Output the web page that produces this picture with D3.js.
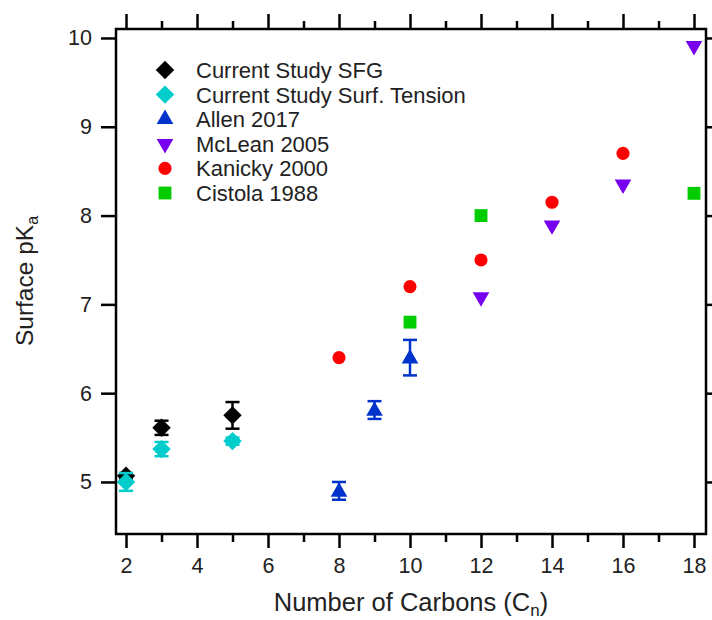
<!doctype html>
<html>
<head>
<meta charset="utf-8">
<script src="https://d3js.org/d3.v7.min.js"></script>
<style>
  body { margin: 0; background: #fff; }
  text { font-family: "Liberation Sans", Arial, sans-serif; fill: #222; }
</style>
</head>
<body>
<script>
// data
var sfgX = [2, 3, 5];
var sfgY = [5.07, 5.61, 5.75];
var sfgErr = [0.03, 0.08, 0.15];

var stX = [2, 3, 5];
var stY = [5.0, 5.37, 5.46];
var stErr = [0.1, 0.08, 0.04];

var allenX = [8, 9, 10];
var allenY = [4.9, 5.81, 6.4];
var allenErr = [0.1, 0.1, 0.2];

var mcleanX = [12, 14, 16, 18];
var mcleanY = [7.07, 7.88, 8.34, 9.9];

var kanickyX = [8, 10, 12, 14, 16];
var kanickyY = [6.4, 7.2, 7.5, 8.15, 8.7];

var cistolaX = [10, 12, 18];
var cistolaY = [6.8, 8.0, 8.25];

var xTicks = [2, 4, 6, 8, 10, 12, 14, 16, 18];
var xMinor = [3, 5, 7, 9, 11, 13, 15, 17];
var yTicks = [5, 6, 7, 8, 9, 10];

var legendNames = ["Current Study SFG", "Current Study Surf. Tension", "Allen 2017",
                   "McLean 2005", "Kanicky 2000", "Cistola 1988"];

var w = 712, h = 620;
var pLeft = 116, pRight = 706, pTop = 29, pBottom = 534;

var svg = d3.select("body").append("svg").attr("width", w).attr("height", h);

var x = d3.scaleLinear().domain([1.718, 18.338]).range([pLeft, pRight]);
var y = d3.scaleLinear().domain([4.414, 10.101]).range([pBottom, pTop]);

// marker shapes
var diamond = d3.symbol().type(d3.symbolSquare).size(170);
var tri = d3.symbol().type(d3.symbolTriangle).size(120);
var circ = d3.symbol().type(d3.symbolCircle).size(135);
var sq = d3.symbol().type(d3.symbolSquare).size(165);

function errorBars(g, xs, ys, es, color) {
  xs.forEach(function(d, i) {
    var cx = x(d), y1 = y(ys[i] + es[i]), y2 = y(ys[i] - es[i]);
    g.append("line").attr("x1", cx).attr("x2", cx).attr("y1", y1).attr("y2", y2)
      .attr("stroke", color).attr("stroke-width", 2.5);
    [y1, y2].forEach(function(yy) {
      g.append("line").attr("x1", cx - 7).attr("x2", cx + 7).attr("y1", yy).attr("y2", yy)
        .attr("stroke", color).attr("stroke-width", 2.5);
    });
  });
}

function points(g, xs, ys, sym, color, rot, dy) {
  g.selectAll(null).data(xs).enter().append("path")
    .attr("d", sym)
    .attr("fill", color)
    .attr("transform", function(d, i) {
      return "translate(" + x(d) + "," + (y(ys[i]) + (dy || 0)) + ") rotate(" + (rot || 0) + ")";
    });
}

var plot = svg.append("g");

errorBars(plot, sfgX, sfgY, sfgErr, "#000");
points(plot, sfgX, sfgY, diamond, "#000", 45);
errorBars(plot, stX, stY, stErr, "#00CCCC");
points(plot, stX, stY, diamond, "#00CCCC", 45);
errorBars(plot, allenX, allenY, allenErr, "#0033CC");
points(plot, allenX, allenY, tri, "#0033CC", 0, 1);
points(plot, mcleanX, mcleanY, tri, "#7700EE", 180, -1);
points(plot, kanickyX, kanickyY, circ, "#FF0000", 0);
points(plot, cistolaX, cistolaY, sq, "#00CC00", 0);

// frame
svg.append("rect").attr("x", pLeft).attr("y", pTop)
  .attr("width", pRight - pLeft).attr("height", pBottom - pTop)
  .attr("fill", "none").attr("stroke", "#000").attr("stroke-width", 2.5);

// axes
var gx = svg.append("g").attr("transform", "translate(0," + pBottom + ")")
  .call(d3.axisBottom(x).tickValues(xTicks).tickSize(14).tickPadding(10).tickFormat(d3.format("d")));
var gxt = svg.append("g").attr("transform", "translate(0," + pTop + ")")
  .call(d3.axisTop(x).tickValues(xTicks).tickSize(15).tickFormat(""));
var gxm = svg.append("g").attr("transform", "translate(0," + pBottom + ")")
  .call(d3.axisBottom(x).tickValues(xMinor).tickSize(8).tickFormat(""));
var gxmt = svg.append("g").attr("transform", "translate(0," + pTop + ")")
  .call(d3.axisTop(x).tickValues(xMinor).tickSize(8).tickFormat(""));
var gy = svg.append("g").attr("transform", "translate(" + pLeft + ",0)")
  .call(d3.axisLeft(y).tickValues(yTicks).tickSize(15).tickPadding(9).tickFormat(d3.format("d")));
var gyr = svg.append("g").attr("transform", "translate(" + pRight + ",0)")
  .call(d3.axisRight(y).tickValues(yTicks).tickSize(8).tickFormat(""));

[gx, gxt, gxm, gxmt, gy, gyr].forEach(function(g) {
  g.select(".domain").remove();
  g.selectAll(".tick line").attr("stroke", "#000").attr("stroke-width", 2.5);
  g.selectAll(".tick text").style("font-family", "Liberation Sans, Arial, sans-serif")
    .style("font-size", "21.5px").attr("fill", "#222");
});

// axis titles
var xt = svg.append("text").attr("x", (pLeft + pRight) / 2).attr("y", 611)
  .attr("text-anchor", "middle").style("font-size", "25.5px");
xt.append("tspan").text("Number of Carbons (C");
xt.append("tspan").text("n").style("font-size", "17px").attr("dy", 5);
xt.append("tspan").text(")").attr("dy", -5);

var yt = svg.append("text").attr("transform", "translate(33,281) rotate(-90)")
  .attr("text-anchor", "middle").style("font-size", "24.5px");
yt.append("tspan").text("Surface pK");
yt.append("tspan").text("a").style("font-size", "16px").attr("dy", 5);

// legend
var legSyms = [
  { sym: diamond, color: "#000", rot: 45 },
  { sym: diamond, color: "#00CCCC", rot: 45 },
  { sym: tri, color: "#0033CC", rot: 0 },
  { sym: tri, color: "#7700EE", rot: 180 },
  { sym: circ, color: "#FF0000", rot: 0 },
  { sym: sq, color: "#00CC00", rot: 0 }
];
var leg = svg.append("g");
legendNames.forEach(function(name, i) {
  var ly = 70 + i * 24.6;
  var s = legSyms[i];
  leg.append("path").attr("d", s.sym).attr("fill", s.color)
    .attr("transform", "translate(165," + ly + ") rotate(" + s.rot + ")");
  leg.append("text").attr("x", 196).attr("y", ly + 8).style("font-size", "22px").text(name);
});
</script>
</body>
</html>
